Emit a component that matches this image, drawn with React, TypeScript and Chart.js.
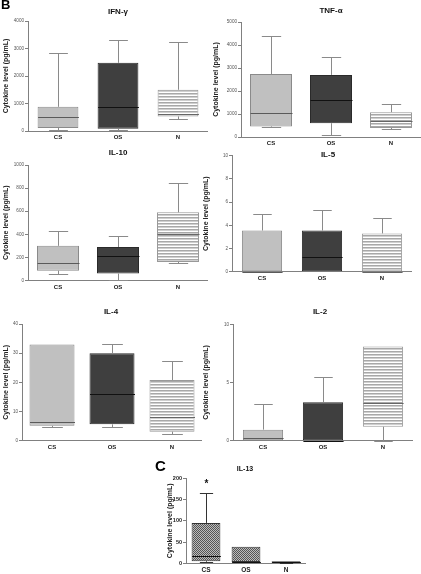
import React, { useEffect, useRef } from "react";
import { Chart, registerables } from "chart.js";
Chart.register(...registerables);

const groups = ["CS", "OS", "N"];
const yTitle = "Cytokine level (pg/mL)";

// IFN-γ
const ifnMin = [20, 30, 450];
const ifnQ1 = [110, 80, 530];
const ifnMed = [520, 880, 620];
const ifnQ3 = [880, 2480, 1500];
const ifnMax = [2850, 3320, 3240];
const ifnTicks = [0, 1000, 2000, 3000, 4000];

// TNF-α
const tnfMin = [420, 100, 350];
const tnfQ1 = [460, 600, 390];
const tnfMed = [1040, 1600, 700];
const tnfQ3 = [2740, 2700, 1080];
const tnfMax = [4400, 3500, 1420];
const tnfTicks = [0, 1000, 2000, 3000, 4000, 5000];

// IL-10
const il10Min = [60, 5, 155];
const il10Q1 = [85, 60, 160];
const il10Med = [150, 210, 400];
const il10Q3 = [300, 290, 590];
const il10Max = [425, 385, 840];
const il10Ticks = [0, 200, 400, 600, 800, 1000];

// IL-5
const il5Min = [0, 0, 0];
const il5Q1 = [0, 0, 0];
const il5Med = [0, 1.3, 0];
const il5Q3 = [3.55, 3.55, 3.3];
const il5Max = [4.97, 5.35, 4.65];
const il5Ticks = [0, 2, 4, 6, 8, 10];

// IL-4
const il4Min = [4.6, 4.6, 2.2];
const il4Q1 = [5.1, 5.6, 3.1];
const il4Med = [6.5, 15.9, 8];
const il4Q3 = [33, 30, 20.8];
const il4Max = [33, 33, 27.2];
const il4Ticks = [0, 10, 20, 30, 40];

// IL-2
const il2Min = [0, 0, 0];
const il2Q1 = [0, 0, 1.2];
const il2Med = [0.2, 0, 3.2];
const il2Q3 = [0.95, 3.3, 8.1];
const il2Max = [3.15, 5.5, 8.1];
const il2Ticks = [0, 5, 10];

// IL-13
const il13Min = [2, 3, 1];
const il13Q1 = [4.7, 3, 1.5];
const il13Med = [16.5, 4, 3];
const il13Q3 = [95, 39, 5];
const il13Max = [166, 39, 5];
const il13Ticks = [0, 50, 100, 150, 200];

const FONT = "'Liberation Sans', Arial, Helvetica, sans-serif";
const AX = "#808080";

type Panel = {
  key: string;
  title: string;
  x: number; y: number; w: number; h: number;
  yw: number; pt: number; bottom: number;
  titleX: number; titleY: number; titleSize: number;
  min: number[]; q1: number[]; med: number[]; q3: number[]; max: number[];
  ticks: number[];
  barPct: number;
  checker?: boolean;
  star?: boolean;
};

const panels: Panel[] = [
  { key: "ifn", title: "IFN-\u03b3", x: 0, y: 0, w: 208, h: 145, yw: 28, pt: 21, bottom: 131, titleX: 118, titleY: 12, titleSize: 8,
    min: ifnMin, q1: ifnQ1, med: ifnMed, q3: ifnQ3, max: ifnMax, ticks: ifnTicks, barPct: 0.68 },
  { key: "tnf", title: "TNF-\u03b1", x: 210, y: 0, w: 211, h: 151, yw: 31, pt: 22, bottom: 137, titleX: 331, titleY: 11, titleSize: 8,
    min: tnfMin, q1: tnfQ1, med: tnfMed, q3: tnfQ3, max: tnfMax, ticks: tnfTicks, barPct: 0.7 },
  { key: "il10", title: "IL-10", x: 0, y: 145, w: 208, h: 150, yw: 28, pt: 20, bottom: 135.5, titleX: 118, titleY: 8, titleSize: 8,
    min: il10Min, q1: il10Q1, med: il10Med, q3: il10Q3, max: il10Max, ticks: il10Ticks, barPct: 0.7 },
  { key: "il5", title: "IL-5", x: 200, y: 145, w: 212, h: 141, yw: 32, pt: 10.7, bottom: 126.7, titleX: 328, titleY: 10, titleSize: 8,
    min: il5Min, q1: il5Q1, med: il5Med, q3: il5Q3, max: il5Max, ticks: il5Ticks, barPct: 0.67 },
  { key: "il4", title: "IL-4", x: 0, y: 300, w: 202, h: 155, yw: 22, pt: 24, bottom: 140.7, titleX: 111, titleY: 12, titleSize: 8,
    min: il4Min, q1: il4Q1, med: il4Med, q3: il4Q3, max: il4Max, ticks: il4Ticks, barPct: 0.75 },
  { key: "il2", title: "IL-2", x: 200, y: 300, w: 213, h: 155, yw: 33, pt: 24.3, bottom: 140.7, titleX: 320, titleY: 12, titleSize: 8,
    min: il2Min, q1: il2Q1, med: il2Med, q3: il2Q3, max: il2Max, ticks: il2Ticks, barPct: 0.67 },
  { key: "il13", title: "IL-13", x: 164, y: 460, w: 142, h: 114, yw: 22, pt: 18.3, bottom: 103.3, titleX: 245, titleY: 9, titleSize: 7,
    min: il13Min, q1: il13Q1, med: il13Med, q3: il13Q3, max: il13Max, ticks: il13Ticks, barPct: 0.72, checker: true, star: true },
];

function makeStripe(ctx: CanvasRenderingContext2D): CanvasPattern {
  const c = document.createElement("canvas");
  c.width = 4; c.height = 3;
  const g = c.getContext("2d")!;
  g.fillStyle = "#a8a8a8"; g.fillRect(0, 0, 4, 1);
  g.fillStyle = "#cfcfcf"; g.fillRect(0, 1, 4, 1);
  g.fillStyle = "#ffffff"; g.fillRect(0, 2, 4, 1);
  return ctx.createPattern(c, "repeat")!;
}

function makeChecker(ctx: CanvasRenderingContext2D): CanvasPattern {
  const c = document.createElement("canvas");
  c.width = 2; c.height = 2;
  const g = c.getContext("2d")!;
  g.fillStyle = "#bcbcbc"; g.fillRect(0, 0, 2, 2);
  g.fillStyle = "#555555"; g.fillRect(0, 0, 1, 1); g.fillRect(1, 1, 1, 1);
  return ctx.createPattern(c, "repeat")!;
}

function BoxChart({ p }: { p: Panel }) {
  const ref = useRef<HTMLCanvasElement>(null);
  useEffect(() => {
    const canvas = ref.current!;
    const ctx = canvas.getContext("2d")!;
    const stripe = makeStripe(ctx);
    const checker = makeChecker(ctx);
    const fills: any[] = p.checker ? [checker, checker, checker] : ["#c0c0c0", "#3f3f3f", stripe];
    const borders = p.checker ? ["#333", "#333", "#333"] : ["#8a8a8a", "#2a2a2a", "#999999"];
    const whiskerCol = p.checker ? ["#333", "#333", "#333"] : ["#8a8a8a", "#8a8a8a", "#8a8a8a"];
    const medCol = p.checker ? ["#111", "#111", "#111"] : ["#5a5a5a", "#111111", "#666666"];
    const xh = p.h - p.bottom;

    const deco = {
      id: "deco_" + p.key,
      afterDatasetsDraw(chart: any) {
        const xs = chart.scales.x;
        const ys = chart.scales.y;
        const meta = chart.getDatasetMeta(0);
        const c = chart.ctx as CanvasRenderingContext2D;
        c.save();
        c.lineWidth = 1;
        for (let i = 0; i < groups.length; i++) {
          const bar = meta.data[i];
          const cx = Math.round(xs.getPixelForValue(i)) + 0.5;
          const bw = bar.width;
          const cap = bw * 0.23;
          const yq1 = ys.getPixelForValue(p.q1[i]);
          const yq3 = ys.getPixelForValue(p.q3[i]);
          const ymin = ys.getPixelForValue(p.min[i]);
          const ymax = ys.getPixelForValue(p.max[i]);
          const ymed = Math.round(ys.getPixelForValue(p.med[i])) + 0.5;
          c.strokeStyle = whiskerCol[i];
          if (p.max[i] > p.q3[i]) {
            const yy = Math.round(ymax) + 0.5;
            c.beginPath();
            c.moveTo(cx, yq3); c.lineTo(cx, yy);
            c.moveTo(cx - cap, yy); c.lineTo(cx + cap, yy);
            c.stroke();
          }
          if (p.min[i] < p.q1[i]) {
            const yy = Math.round(ymin) + 0.5;
            c.beginPath();
            c.moveTo(cx, yq1); c.lineTo(cx, yy);
            c.moveTo(cx - cap, yy); c.lineTo(cx + cap, yy);
            c.stroke();
          }
          c.strokeStyle = medCol[i];
          c.beginPath();
          c.moveTo(cx - bw / 2, ymed); c.lineTo(cx + bw / 2, ymed);
          c.stroke();
          if (p.star && i === 0) {
            c.fillStyle = "#111";
            c.font = `bold 10px ${FONT}`;
            c.textAlign = "center";
            c.textBaseline = "middle";
            c.fillText("*", cx, ymax - 9);
          }
        }
        c.fillStyle = "#111";
        c.font = `bold ${p.titleSize}px ${FONT}`;
        c.textAlign = "center";
        c.textBaseline = "middle";
        c.fillText(p.title, p.titleX - p.x, p.titleY);
        c.restore();
      },
    };

    const chart = new Chart(ctx, {
      type: "bar",
      data: {
        labels: groups,
        datasets: [
          {
            data: groups.map((_, i) => [p.q1[i], p.q3[i]]) as any,
            backgroundColor: fills,
            borderColor: borders,
            borderWidth: 1,
            borderSkipped: false,
            barPercentage: p.barPct,
            categoryPercentage: 1,
          },
        ],
      },
      options: {
        responsive: false,
        animation: false,
        devicePixelRatio: 1,
        layout: { padding: { top: p.pt, left: 0, right: 0, bottom: 0 } },
        plugins: { legend: { display: false }, tooltip: { enabled: false }, title: { display: false } },
        scales: {
          x: {
            type: "category",
            offset: true,
            grid: { display: false, drawTicks: false },
            border: { display: true, color: AX, width: 1 },
            ticks: {
              font: { family: FONT, size: p.checker ? 6.5 : 6, weight: "bold" },
              color: "#1a1a1a",
              padding: 3,
              maxRotation: 0,
              autoSkip: false,
            },
            afterFit: (s: any) => { s.height = xh; },
          },
          y: {
            type: "linear",
            min: p.ticks[0],
            max: p.ticks[p.ticks.length - 1],
            afterBuildTicks: (s: any) => { s.ticks = p.ticks.map((v) => ({ value: v })); },
            grid: { display: true, drawOnChartArea: false, drawTicks: true, tickLength: 3, color: AX },
            border: { display: true, color: AX, width: 1 },
            ticks: {
              callback: (v: any) => String(v),
              font: { family: FONT, size: p.checker ? 5.5 : 4.6, weight: p.checker ? "bold" : "normal" },
              color: p.checker ? "#222" : "#555",
              padding: 1,
            },
            title: {
              display: true,
              text: yTitle,
              font: { family: FONT, size: 7, weight: "bold" },
              color: "#222",
              padding: { top: 2, bottom: 0 },
            },
            afterFit: (s: any) => { s.width = p.yw; },
          },
        },
      } as any,
      plugins: [deco as any],
    });
    return () => chart.destroy();
  }, []);
  return (
    <div style={{ position: "absolute", left: p.x, top: p.y, width: p.w, height: p.h }}>
      <canvas ref={ref} width={p.w} height={p.h} style={{ width: p.w, height: p.h, display: "block" }} />
    </div>
  );
}

export default function App() {
  return (
    <div style={{ position: "absolute", left: 0, top: 0, width: 421, height: 574, background: "#fff", overflow: "hidden" }}>
      {panels.map((p) => <BoxChart key={p.key} p={p} />)}
      <div style={{ position: "absolute", left: 1, top: -2, font: `bold 13px ${FONT}`, lineHeight: "13px", color: "#000" }}>B</div>
      <div style={{ position: "absolute", left: 155, top: 458, font: `bold 15px ${FONT}`, lineHeight: "15px", color: "#000" }}>C</div>
    </div>
  );
}
